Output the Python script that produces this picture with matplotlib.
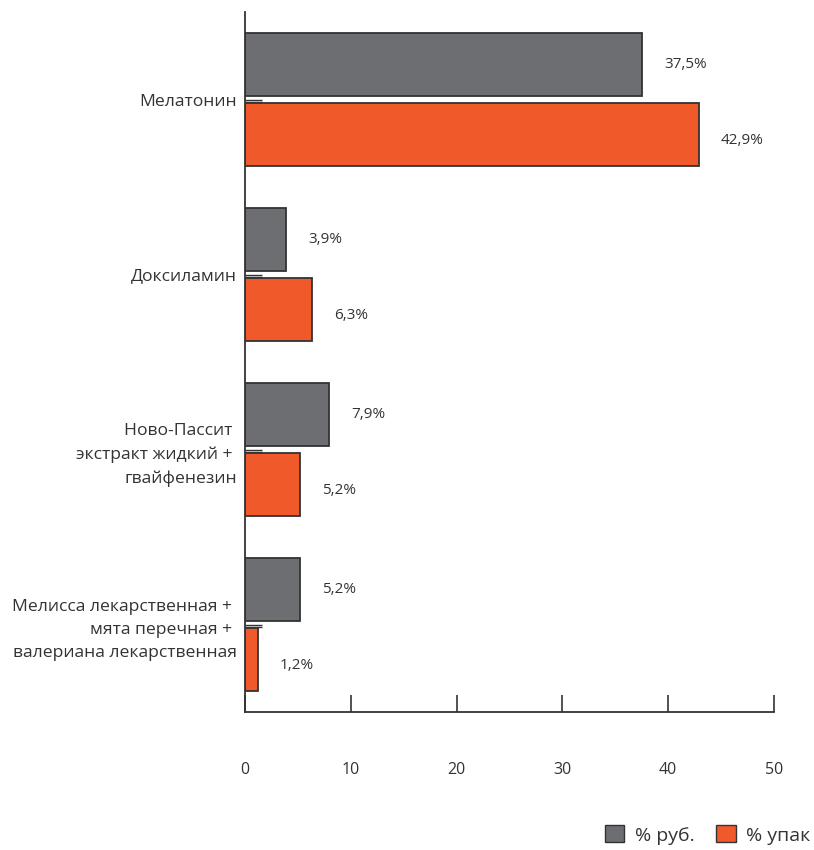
# horizontal paired bars: % руб. vs % упак

import numpy as np
import matplotlib.pyplot as plt
from matplotlib.patches import Patch

plt.rcParams['font.family'] = ['Open Sans', 'DejaVu Sans']

# data
categories = ["Мелатонин",
              "Доксиламин",
              "Ново-Пассит \nэкстракт жидкий + \nгвайфенезин",
              "Мелисса лекарственная + \nмята перечная + \nвалериана лекарственная"]
rub  = [37.5, 3.9, 7.9, 5.2]
upak = [42.9, 6.3, 5.2, 1.2]
rub_labels  = ["37,5%", "3,9%", "7,9%", "5,2%"]
upak_labels = ["42,9%", "6,3%", "5,2%", "1,2%"]
xticks = [0, 10, 20, 30, 40, 50]

col_rub  = '#6d6e71'
col_upak = '#f05a2a'
edge     = '#333333'
txt      = '#333333'

fig = plt.figure(figsize=(8.14, 8.5), dpi=100)
ax = fig.add_axes([245/814, 1 - 712/850, (774-245)/814, 700/850])

y = np.arange(len(categories))
h = 0.36
ax.barh(y - 0.2, rub, height=h, color=col_rub, edgecolor=edge, linewidth=1.3)
ax.barh(y + 0.2, upak, height=h, color=col_upak, edgecolor=edge, linewidth=1.3)

# value labels
for i in range(len(categories)):
    ax.annotate(rub_labels[i], (rub[i], y[i] - 0.2), xytext=(16, 0),
                textcoords='offset points', ha='left', va='center',
                fontsize=11, color=txt)
    ax.annotate(upak_labels[i], (upak[i], y[i] + 0.2), xytext=(16, -4),
                textcoords='offset points', ha='left', va='center',
                fontsize=11, color=txt)

ax.set_xlim(0, 50)
ax.set_ylim(len(categories) - 0.5, -0.5)

ax.set_xticks(xticks)
ax.set_xticklabels([str(v) for v in xticks])
ax.set_yticks(y)
ax.set_yticklabels(categories, linespacing=1.6)
# second thin tick right under the major one (looks like "=")
ax.set_yticks(y + 0.012, minor=True)

ax.tick_params(axis='x', direction='in', length=12, width=1.2, color=edge,
               pad=36, labelsize=11.5, labelcolor=txt)
ax.tick_params(axis='y', which='major', direction='in', length=12, width=1,
               color=edge, pad=6, labelsize=12.6, labelcolor=txt)
ax.tick_params(axis='y', which='minor', direction='in', length=12, width=1,
               color=edge)

for s in ['top', 'right']:
    ax.spines[s].set_visible(False)
for s in ['left', 'bottom']:
    ax.spines[s].set_color(edge)
    ax.spines[s].set_linewidth(1.3)

handles = [Patch(facecolor=col_rub, edgecolor=edge, label='% руб.'),
           Patch(facecolor=col_upak, edgecolor=edge, label='% упак')]
fig.legend(handles=handles, loc='center right', bbox_to_anchor=(1.01, 1 - 835/850),
           ncol=2, frameon=False, fontsize=14, handlelength=1.0,
           handleheight=0.95, handletextpad=0.55, columnspacing=1.1,
           labelcolor=txt, borderaxespad=0.2)

plt.savefig('out.png', dpi=100)
